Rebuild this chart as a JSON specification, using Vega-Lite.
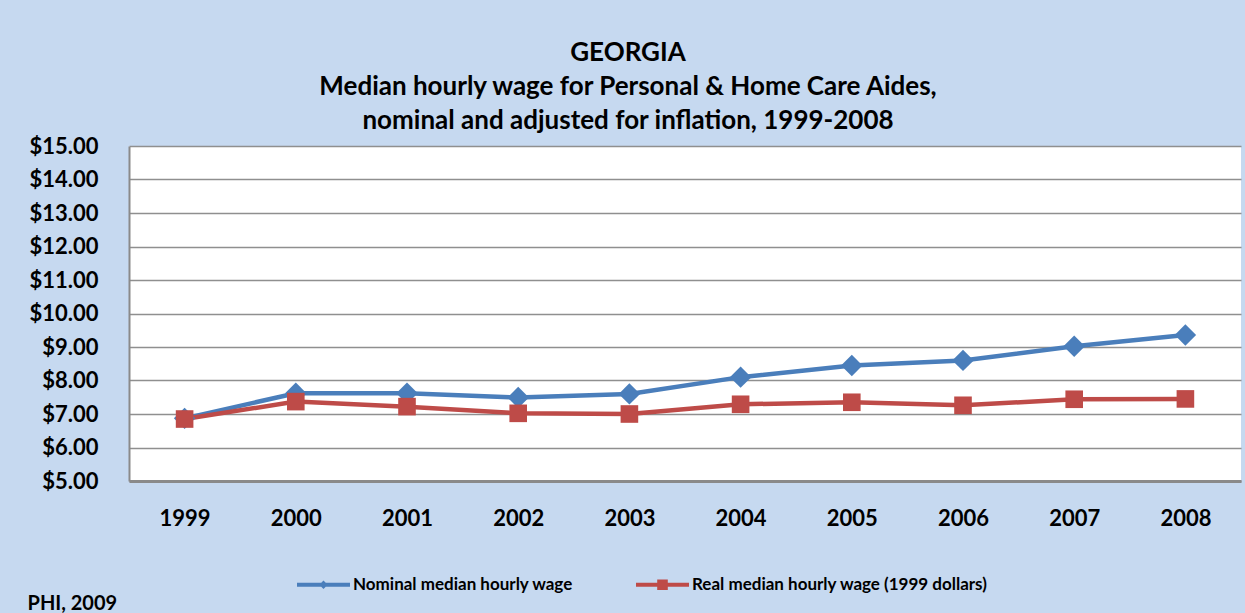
{
  "$schema": "https://vega.github.io/schema/vega-lite/v6.json",
  "width": 1112,
  "height": 335,
  "autosize": {"type": "none"},
  "padding": {"left": 129, "top": 146, "right": 4, "bottom": 132},
  "background": "#C6D9F0",
  "config": {
    "font": "Lato",
    "view": {"stroke": null, "fill": "white"}
  },
  "title": {
    "text": ["GEORGIA", "Median hourly wage for Personal & Home Care Aides,", "nominal and adjusted for inflation, 1999-2008"],
    "font": "Lato",
    "fontSize": 26,
    "fontWeight": "bold",
    "color": "black",
    "lineHeight": 34,
    "anchor": "middle",
    "frame": "group",
    "dx": -57,
    "offset": 1
  },
  "data": {
    "values": [
      {"year": "1999", "series": "Nominal median hourly wage", "wage": 6.87},
      {"year": "2000", "series": "Nominal median hourly wage", "wage": 7.62},
      {"year": "2001", "series": "Nominal median hourly wage", "wage": 7.62},
      {"year": "2002", "series": "Nominal median hourly wage", "wage": 7.49},
      {"year": "2003", "series": "Nominal median hourly wage", "wage": 7.6},
      {"year": "2004", "series": "Nominal median hourly wage", "wage": 8.1},
      {"year": "2005", "series": "Nominal median hourly wage", "wage": 8.45},
      {"year": "2006", "series": "Nominal median hourly wage", "wage": 8.6},
      {"year": "2007", "series": "Nominal median hourly wage", "wage": 9.02},
      {"year": "2008", "series": "Nominal median hourly wage", "wage": 9.36},
      {"year": "1999", "series": "Real median hourly wage (1999 dollars)", "wage": 6.85},
      {"year": "2000", "series": "Real median hourly wage (1999 dollars)", "wage": 7.37},
      {"year": "2001", "series": "Real median hourly wage (1999 dollars)", "wage": 7.22},
      {"year": "2002", "series": "Real median hourly wage (1999 dollars)", "wage": 7.02},
      {"year": "2003", "series": "Real median hourly wage (1999 dollars)", "wage": 7.0},
      {"year": "2004", "series": "Real median hourly wage (1999 dollars)", "wage": 7.29},
      {"year": "2005", "series": "Real median hourly wage (1999 dollars)", "wage": 7.35},
      {"year": "2006", "series": "Real median hourly wage (1999 dollars)", "wage": 7.26},
      {"year": "2007", "series": "Real median hourly wage (1999 dollars)", "wage": 7.44},
      {"year": "2008", "series": "Real median hourly wage (1999 dollars)", "wage": 7.45}
    ]
  },
  "encoding": {
    "x": {
      "field": "year",
      "type": "ordinal",
      "scale": {"type": "point", "padding": 0.5},
      "axis": {
        "title": "PHI, 2009",
        "titleFont": "Lato",
        "titleFontSize": 20,
        "titleFontWeight": "bold",
        "titleColor": "black",
        "titleAnchor": "start",
        "titleAlign": "left",
        "titleBaseline": "alphabetic",
        "titleX": -102,
        "titleY": 128,
        "labelAngle": 0,
        "labelFont": "Lato",
        "labelFontSize": 22,
        "labelFontWeight": "bold",
        "labelColor": "black",
        "labelPadding": 27,
        "ticks": false,
        "domainColor": "#8a8a8a",
        "domainWidth": 3,
        "grid": false
      }
    },
    "y": {
      "field": "wage",
      "type": "quantitative",
      "scale": {"domain": [5, 15], "nice": false, "zero": false},
      "axis": {
        "title": null,
        "values": [5, 6, 7, 8, 9, 10, 11, 12, 13, 14, 15],
        "format": "$.2f",
        "labelFont": "Lato",
        "labelFontSize": 22,
        "labelFontWeight": "bold",
        "labelColor": "black",
        "labelPadding": 31,
        "ticks": false,
        "domainColor": "#8a8a8a",
        "domainWidth": 2,
        "grid": true,
        "gridColor": "#8f8f8f",
        "gridWidth": 1.5
      }
    },
    "color": {
      "field": "series",
      "type": "nominal",
      "scale": {
        "domain": ["Nominal median hourly wage", "Real median hourly wage (1999 dollars)"],
        "range": ["#4A7EBB", "#BE4B48"]
      },
      "legend": {
        "title": null,
        "orient": "none",
        "direction": "horizontal",
        "legendX": 168,
        "legendY": 412,
        "symbolSize": 2809,
        "labelFont": "Lato",
        "labelFontSize": 17,
        "labelFontWeight": "bold",
        "labelColor": "black",
        "labelOffset": 3,
        "labelLimit": 500,
        "columnPadding": 62,
        "encode": {
          "symbols": {
            "update": {
              "shape": {"signal": "datum.value === 'Nominal median hourly wage' ? 'M-1,-0.075H1V0.075H-1Z M0,-0.16L0.16,0L0,0.16L-0.16,0Z' : 'M-1,-0.075H1V0.075H-1Z M-0.2,-0.2H0.2V0.2H-0.2Z'"},
              "fill": {"scale": "color", "field": "value"},
              "strokeWidth": {"value": 0},
              "opacity": {"value": 1}
            }
          }
        }
      }
    }
  },
  "layer": [
    {
      "mark": {"type": "line", "strokeWidth": 4.5}
    },
    {
      "mark": {"type": "point", "filled": true, "opacity": 1},
      "encoding": {
        "shape": {
          "field": "series",
          "type": "nominal",
          "scale": {"range": ["diamond", "square"]},
          "legend": null
        },
        "size": {
          "field": "series",
          "type": "nominal",
          "scale": {"range": [460, 310]},
          "legend": null
        }
      }
    }
  ]
}
